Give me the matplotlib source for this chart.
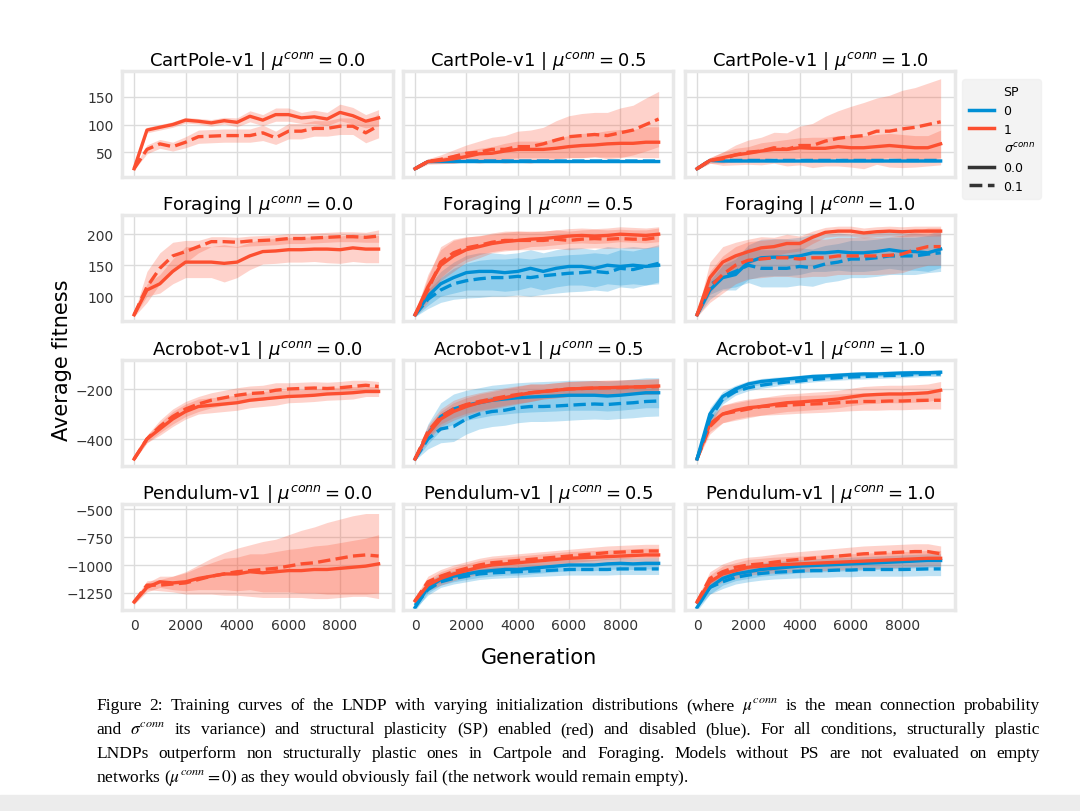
import matplotlib
matplotlib.use("Agg")
import matplotlib.pyplot as plt
from matplotlib.lines import Line2D
from matplotlib.patches import Rectangle
import numpy as np

gens = [0,500,1000,1500,2000,2500,3000,3500,4000,4500,5000,5500,6000,6500,7000,7500,8000,8500,9000,9500]
envs = ["CartPole-v1", "Foraging", "Acrobot-v1", "Pendulum-v1"]
mus = ["0.0", "0.5", "1.0"]
xticks = [0, 2000, 4000, 6000, 8000]
yticks = [[50, 100, 150], [100, 150, 200], [-400, -200], [-1250, -1000, -750, -500]]
ylims = [(5, 197), (60, 231), (-508, -84), (-1402, -455)]

# series: (mean, band half-width); r=SP1 red, b=SP0 blue; 0 = sigma 0.0 (solid), 1 = sigma 0.1 (dashed)
cp0_r0 = [20,90,95,100,108,106,103,107,104,115,108,118,118,112,114,110,122,116,106,112]
cp0_r0_sd = [2,5,5,5,5,5,6,6,8,10,10,12,12,10,12,12,15,15,12,15]
cp0_r1 = [20,55,65,60,68,78,79,80,80,80,85,76,88,88,93,93,97,97,85,98]
cp0_r1_sd = [2,8,8,8,10,12,12,12,12,12,14,12,14,14,14,14,15,15,18,22]
cp5_r0 = [20,33,35,38,42,47,48,52,55,55,55,57,60,62,63,65,66,66,68,68]
cp5_r0_sd = [2,3,5,8,10,10,12,14,15,15,15,18,20,22,22,24,25,25,28,28]
cp5_r1 = [20,33,37,42,48,50,55,55,60,60,65,72,78,80,82,80,85,90,100,110]
cp5_r1_sd = [2,5,8,12,15,20,22,25,28,30,30,35,38,40,40,42,45,45,48,50]
cp5_b0 = [20,33,33,33,33,33,33,33,33,33,33,33,33,33,33,33,33,33,33,33]
cp5_b1 = [20,33,34,34,34,34,34,34,34,34,34,34,34,34,34,34,34,34,34,34]
cp5_b_sd = [1,2,2,2,2,2,2,2,2,2,2,2,2,2,2,2,2,2,2,2]
cp1_r0 = [20,35,40,45,48,52,55,55,58,57,57,60,58,58,60,62,60,58,58,65]
cp1_r0_sd = [2,5,10,12,12,15,15,18,18,20,20,20,22,22,22,22,22,22,22,25]
cp1_r1 = [20,35,38,45,50,52,58,55,62,62,70,75,78,80,88,88,92,95,100,105]
cp1_r1_sd = [2,5,12,18,22,25,28,30,35,40,45,50,55,60,60,65,70,72,75,78]
cp1_b0 = [20,35,34,34,34,34,34,34,34,34,34,34,34,34,34,34,34,34,34,34]
cp1_b1 = [20,35,35,35,35,35,35,35,35,35,35,35,35,35,35,35,35,35,35,35]

fo0_r0 = [70,110,120,140,155,155,155,153,155,165,172,173,175,175,176,176,175,178,176,176]
fo0_r0_sd = [3,10,15,20,25,25,25,30,25,22,20,20,20,20,20,22,22,22,22,22]
fo0_r1 = [70,115,145,165,172,180,188,188,187,189,190,191,193,193,194,195,196,196,195,197]
fo0_r1_sd = [3,25,25,22,18,10,8,8,8,8,8,8,8,8,8,8,8,8,8,10]
fo5_r0 = [70,115,150,165,175,180,185,188,190,192,193,195,197,198,197,198,200,199,198,200]
fo5_r0_sd = [3,20,25,25,20,18,15,15,15,12,12,12,12,12,12,12,12,12,12,12]
fo5_r1 = [70,110,155,170,178,182,187,190,190,190,190,192,190,192,193,192,193,192,192,195]
fo5_r1_sd = [3,20,25,22,18,15,15,15,15,15,15,15,15,15,15,15,15,15,15,15]
fo5_b0 = [70,100,120,130,138,140,140,138,140,145,140,145,148,148,145,150,148,150,148,150]
fo5_b0_sd = [3,15,20,25,28,30,30,30,30,30,30,30,30,30,30,30,30,30,30,30]
fo5_b1 = [70,95,110,120,125,128,130,130,132,130,133,135,137,138,140,138,145,143,148,153]
fo5_b1_sd = [3,15,20,25,28,30,30,30,30,30,30,30,30,30,30,30,30,30,30,30]
fo1_r0 = [70,130,155,165,172,178,180,185,185,195,203,205,205,202,204,205,204,205,205,205]
fo1_r0_sd = [3,25,25,22,20,18,15,15,12,10,8,8,8,8,8,8,8,8,8,8]
fo1_r1 = [70,115,135,150,158,160,162,162,160,162,162,165,165,165,165,166,168,175,180,180]
fo1_r1_sd = [3,25,30,30,30,30,30,30,30,30,30,30,30,30,30,30,30,30,30,30]
fo1_b0 = [70,110,130,135,155,162,163,163,165,170,170,172,170,170,172,175,172,172,170,176]
fo1_b0_sd = [3,15,20,25,28,30,30,30,30,30,30,30,30,30,30,30,30,30,30,30]
fo1_b1 = [70,118,132,140,150,145,145,145,148,146,152,155,160,160,162,165,165,165,168,170]
fo1_b1_sd = [3,15,20,25,28,30,30,30,30,30,30,30,30,30,30,30,30,30,30,30]

ac0_r0 = [-480,-400,-360,-320,-290,-270,-265,-260,-255,-245,-240,-235,-230,-228,-225,-220,-218,-215,-210,-210]
ac0_r0_sd = [5,15,25,30,30,30,30,30,30,30,30,30,25,25,25,25,25,25,20,20]
ac0_r1 = [-480,-400,-350,-310,-280,-260,-245,-235,-225,-218,-215,-205,-200,-198,-196,-198,-195,-190,-185,-190]
ac0_r1_sd = [5,15,25,30,30,30,30,30,30,30,30,30,25,25,25,25,25,25,20,20]
ac5_r0 = [-480,-380,-320,-290,-270,-255,-245,-235,-225,-215,-210,-205,-200,-198,-196,-195,-193,-192,-190,-188]
ac5_r0_sd = [5,25,30,35,35,35,35,35,35,35,30,30,30,30,30,30,30,30,30,30]
ac5_r1 = [-480,-370,-310,-280,-262,-250,-240,-230,-222,-215,-210,-205,-200,-198,-196,-195,-195,-192,-192,-190]
ac5_r1_sd = [5,25,30,35,35,35,35,35,35,35,30,30,30,30,30,30,30,30,30,30]
ac5_b0 = [-480,-380,-310,-280,-265,-255,-245,-240,-235,-232,-230,-228,-225,-225,-225,-228,-225,-220,-215,-215]
ac5_b0_sd = [5,40,55,60,60,60,60,60,60,60,60,60,60,60,60,60,60,60,60,60]
ac5_b1 = [-480,-400,-360,-350,-320,-300,-290,-285,-275,-270,-270,-268,-265,-262,-260,-262,-258,-255,-250,-248]
ac5_b1_sd = [5,40,55,60,60,60,60,60,60,60,60,60,60,60,60,60,60,60,60,60]
ac1_r0 = [-480,-340,-300,-285,-275,-270,-262,-255,-252,-248,-245,-240,-232,-225,-222,-220,-220,-218,-215,-205]
ac1_r0_sd = [5,30,35,35,35,35,35,35,35,35,35,35,35,35,35,35,35,35,35,35]
ac1_r1 = [-480,-350,-300,-290,-280,-270,-268,-265,-262,-260,-258,-255,-252,-250,-250,-248,-248,-246,-245,-245]
ac1_r1_sd = [5,30,35,35,35,35,35,35,35,35,35,35,35,35,35,35,35,35,35,35]
ac1_b0 = [-480,-300,-230,-200,-180,-170,-165,-160,-155,-150,-148,-145,-142,-140,-140,-138,-136,-135,-135,-133]
ac1_b0_sd = [5,25,20,15,12,12,12,10,10,10,10,10,10,10,10,10,10,10,10,10]
ac1_b1 = [-480,-320,-240,-210,-195,-185,-178,-172,-168,-162,-158,-155,-152,-150,-148,-146,-145,-142,-140,-140]
ac1_b1_sd = [5,25,20,15,12,12,12,10,10,10,10,10,10,10,10,10,10,10,10,10]

pe0_r0 = [-1330,-1200,-1150,-1160,-1150,-1120,-1100,-1080,-1080,-1060,-1070,-1060,-1050,-1050,-1040,-1040,-1030,-1020,-1010,-990]
pe0_r0_sd = [20,40,50,60,80,100,120,140,150,160,170,180,190,200,210,220,230,240,250,260]
pe0_r1 = [-1330,-1180,-1180,-1170,-1160,-1130,-1100,-1080,-1060,-1050,-1040,-1030,-1010,-990,-980,-960,-940,-920,-910,-920]
pe0_r1_sd = [20,40,50,70,100,130,160,190,210,230,250,260,280,300,320,340,350,360,370,380]
pe5_r0 = [-1320,-1180,-1120,-1080,-1050,-1020,-1000,-990,-980,-970,-960,-950,-940,-935,-930,-925,-920,-915,-910,-910]
pe5_r0_sd = [30,50,60,60,60,60,60,60,60,60,60,60,60,60,60,60,60,60,60,60]
pe5_r1 = [-1320,-1150,-1100,-1060,-1030,-1000,-980,-970,-960,-950,-940,-930,-920,-910,-900,-890,-885,-880,-875,-875]
pe5_r1_sd = [30,50,60,60,60,60,60,60,60,60,60,60,60,60,60,60,60,60,60,60]
pe5_b0 = [-1380,-1200,-1130,-1100,-1080,-1060,-1050,-1040,-1040,-1030,-1020,-1010,-1000,-1000,-1000,-990,-985,-990,-985,-985]
pe5_b0_sd = [30,50,50,50,50,50,50,50,50,50,50,50,50,50,50,50,50,50,50,50]
pe5_b1 = [-1360,-1220,-1150,-1120,-1100,-1080,-1070,-1065,-1060,-1055,-1050,-1045,-1040,-1040,-1040,-1040,-1035,-1035,-1035,-1035]
pe5_b1_sd = [30,50,50,50,50,50,50,50,50,50,50,50,50,50,50,50,50,50,50,50]
pe1_r0 = [-1330,-1150,-1080,-1050,-1020,-1010,-1000,-995,-990,-985,-980,-975,-970,-965,-960,-955,-950,-945,-940,-940]
pe1_r0_sd = [30,60,70,70,70,70,70,70,70,70,70,70,70,70,70,70,70,70,70,70]
pe1_r1 = [-1330,-1120,-1060,-1020,-1000,-990,-975,-960,-950,-940,-930,-920,-910,-900,-895,-890,-885,-880,-880,-900]
pe1_r1_sd = [30,60,70,70,70,70,70,70,70,70,70,70,70,70,70,70,70,70,70,70]
pe1_b0 = [-1380,-1200,-1120,-1080,-1060,-1040,-1030,-1020,-1010,-1005,-1000,-995,-990,-985,-980,-975,-970,-965,-960,-960]
pe1_b0_sd = [30,60,60,60,60,60,60,60,60,60,60,60,60,60,60,60,60,60,60,60]
pe1_b1 = [-1350,-1200,-1150,-1110,-1090,-1075,-1065,-1060,-1055,-1050,-1050,-1045,-1045,-1040,-1040,-1040,-1040,-1038,-1035,-1035]
pe1_b1_sd = [30,60,60,60,60,60,60,60,60,60,60,60,60,60,60,60,60,60,60,60]

RED = "#fc4f30"
BLUE = "#008fd5"

panels = {
    (0,0): [(RED,"-",cp0_r0,cp0_r0_sd),(RED,"--",cp0_r1,cp0_r1_sd)],
    (0,1): [(BLUE,"-",cp5_b0,cp5_b_sd),(BLUE,"--",cp5_b1,cp5_b_sd),(RED,"-",cp5_r0,cp5_r0_sd),(RED,"--",cp5_r1,cp5_r1_sd)],
    (0,2): [(BLUE,"-",cp1_b0,cp5_b_sd),(BLUE,"--",cp1_b1,cp5_b_sd),(RED,"-",cp1_r0,cp1_r0_sd),(RED,"--",cp1_r1,cp1_r1_sd)],
    (1,0): [(RED,"-",fo0_r0,fo0_r0_sd),(RED,"--",fo0_r1,fo0_r1_sd)],
    (1,1): [(BLUE,"-",fo5_b0,fo5_b0_sd),(BLUE,"--",fo5_b1,fo5_b1_sd),(RED,"-",fo5_r0,fo5_r0_sd),(RED,"--",fo5_r1,fo5_r1_sd)],
    (1,2): [(BLUE,"-",fo1_b0,fo1_b0_sd),(BLUE,"--",fo1_b1,fo1_b1_sd),(RED,"-",fo1_r0,fo1_r0_sd),(RED,"--",fo1_r1,fo1_r1_sd)],
    (2,0): [(RED,"-",ac0_r0,ac0_r0_sd),(RED,"--",ac0_r1,ac0_r1_sd)],
    (2,1): [(BLUE,"-",ac5_b0,ac5_b0_sd),(BLUE,"--",ac5_b1,ac5_b1_sd),(RED,"-",ac5_r0,ac5_r0_sd),(RED,"--",ac5_r1,ac5_r1_sd)],
    (2,2): [(RED,"-",ac1_r0,ac1_r0_sd),(RED,"--",ac1_r1,ac1_r1_sd),(BLUE,"-",ac1_b0,ac1_b0_sd),(BLUE,"--",ac1_b1,ac1_b1_sd)],
    (3,0): [(RED,"-",pe0_r0,pe0_r0_sd),(RED,"--",pe0_r1,pe0_r1_sd)],
    (3,1): [(BLUE,"-",pe5_b0,pe5_b0_sd),(BLUE,"--",pe5_b1,pe5_b1_sd),(RED,"-",pe5_r0,pe5_r0_sd),(RED,"--",pe5_r1,pe5_r1_sd)],
    (3,2): [(BLUE,"-",pe1_b0,pe1_b0_sd),(BLUE,"--",pe1_b1,pe1_b1_sd),(RED,"-",pe1_r0,pe1_r0_sd),(RED,"--",pe1_r1,pe1_r1_sd)],
}

W, H = 1080, 812
fig = plt.figure(figsize=(10.8, 8.12), dpi=100)
col_x = [(122, 393), (403, 673), (685, 955)]
row_y = [(72, 178), (216, 322), (361, 467), (505, 611)]
x = np.array(gens)
for r in range(4):
    for c in range(3):
        x0, x1 = col_x[c]; y0, y1 = row_y[r]
        ax = fig.add_axes([x0/W, 1-y1/H, (x1-x0)/W, (y1-y0)/H])
        for col, ls, m, sd in panels[(r, c)]:
            m = np.array(m, float); sd = np.array(sd, float)
            ax.fill_between(x, m-sd, m+sd, color=col, alpha=0.25, lw=0)
            ax.plot(x, m, color=col, ls=ls, lw=2.4)
        ax.set_xlim(-470, 10060); ax.set_ylim(*ylims[r])
        ax.set_xticks(xticks); ax.set_yticks(yticks[r])
        ax.grid(True, color="#dcdcdc", lw=1)
        ax.set_axisbelow(True)
        for s in ax.spines.values():
            s.set_color("#e8e8e8"); s.set_linewidth(2.5)
        ax.tick_params(length=0, labelsize=10, colors="#333333", pad=6)
        if r != 3: ax.set_xticklabels([])
        if c != 0: ax.set_yticklabels([])
        ax.set_title(envs[r] + r" | $\mu^{conn}=$" + mus[c], fontsize=13, pad=4)

fig.text(62/W, 1-360/H, "Average fitness", rotation=90, fontsize=15, ha="center", va="center")
fig.text(539/W, 1-658/H, "Generation", fontsize=15, ha="center", va="center")

handles = [Line2D([], [], color="none"), Line2D([], [], color=BLUE, lw=2.5), Line2D([], [], color=RED, lw=2.5),
           Line2D([], [], color="none"), Line2D([], [], color="#333333", lw=2.5, ls="-"),
           Line2D([], [], color="#333333", lw=2.5, ls="--")]
labels = ["SP", "0", "1", r"$\sigma^{conn}$", "0.0", "0.1"]
leg = fig.legend(handles, labels, loc="upper left", bbox_to_anchor=(956/W, 1-74/H), fontsize=9,
                 frameon=True, facecolor="#f0f0f0", edgecolor="#f0f0f0", handlelength=2.0,
                 labelspacing=0.45, borderpad=0.5)

caption = [
    r"Figure 2: Training curves of the LNDP with varying initialization distributions (where $\mu^{conn}$ is the mean connection probability",
    r"and $\sigma^{conn}$ its variance) and structural plasticity (SP) enabled (red) and disabled (blue).  For all conditions, structurally plastic",
    r"LNDPs outperform non structurally plastic ones in Cartpole and Foraging.  Models without PS are not evaluated on empty",
    r"networks ($\mu^{conn}=0$) as they would obviously fail (the network would remain empty).",
]
left_px, right_px = 96, 1040
renderer = fig.canvas.get_renderer()
for i, line in enumerate(caption):
    ypos = 1-(706+i*24)/H
    if i == len(caption) - 1:
        fig.text(left_px/W, ypos, line, fontsize=12.5, family="Liberation Serif",
                 math_fontfamily="stix", va="center", ha="left")
        continue
    words = line.split()
    texts = [fig.text(0, ypos, w, fontsize=12.5, family="Liberation Serif",
                      math_fontfamily="stix", va="center", ha="left") for w in words]
    widths = [t.get_window_extent(renderer).width for t in texts]
    gap = (right_px - left_px - sum(widths)) / (len(words) - 1)
    pos = left_px
    for t, wd in zip(texts, widths):
        t.set_x(pos / W)
        pos += wd + gap

fig.patches.append(Rectangle((0, 0), 1, 16/H, transform=fig.transFigure, color="#ececec", zorder=0))
fig.savefig("out.png", dpi=100)
